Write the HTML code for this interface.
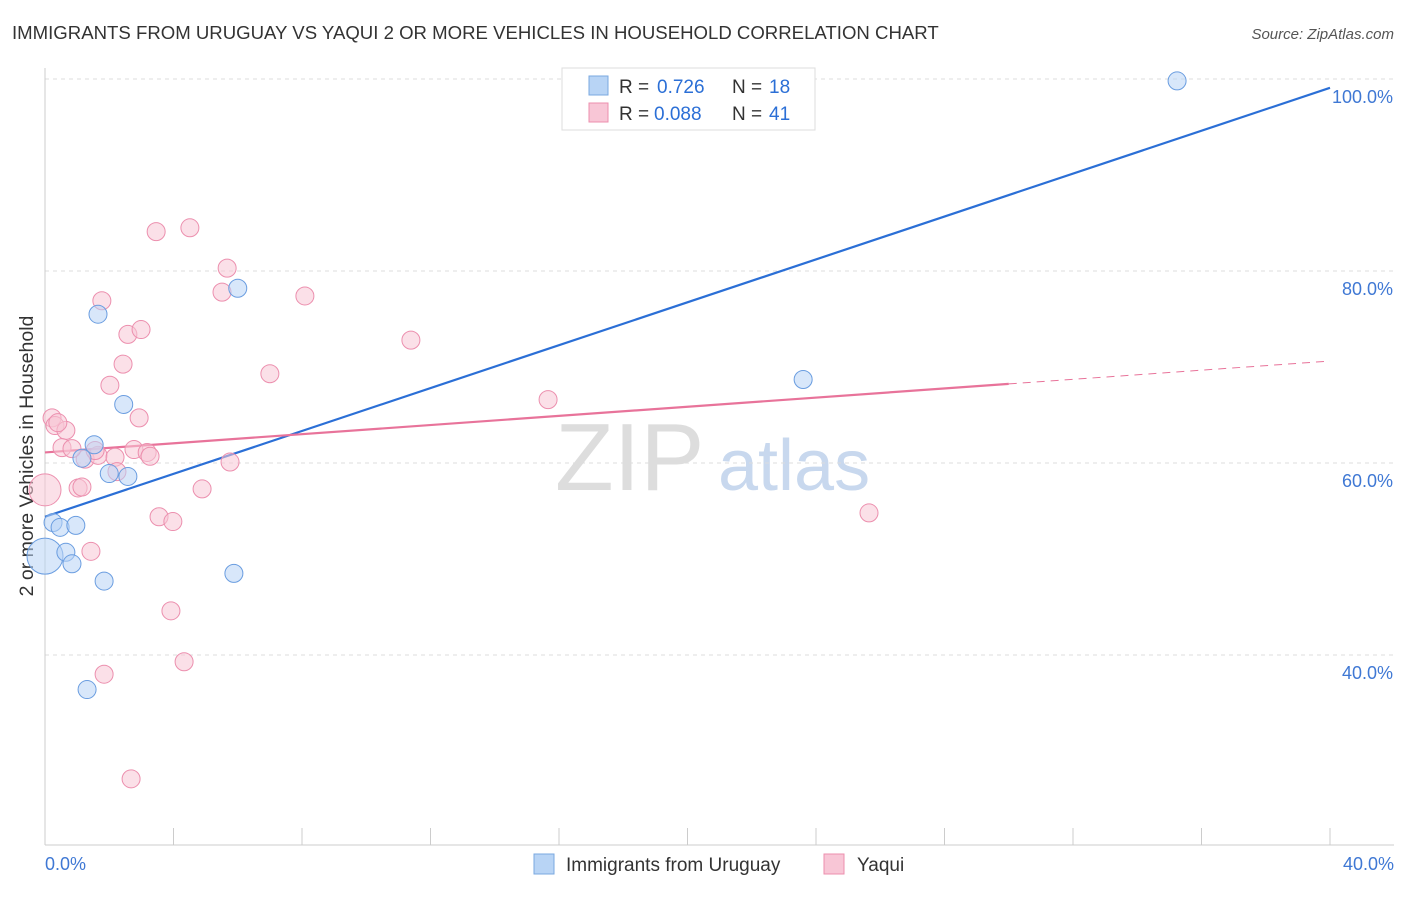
<!DOCTYPE html>
<html><head><meta charset="utf-8"><style>
body{margin:0;background:#fff;font-family:"Liberation Sans",sans-serif}
svg text{font-family:"Liberation Sans",sans-serif}
</style></head><body>
<svg id="chart" width="1406" height="892" xmlns="http://www.w3.org/2000/svg">
<text x="12" y="39" font-size="18.6" fill="#333">IMMIGRANTS FROM URUGUAY VS YAQUI 2 OR MORE VEHICLES IN HOUSEHOLD CORRELATION CHART</text>
<text x="1394" y="39" font-size="15" fill="#555" font-style="italic" text-anchor="end">Source: ZipAtlas.com</text>
<text x="555" y="490" font-size="96" fill="#ddd" font-family="Liberation Serif">ZIP</text>
<text x="718" y="490" font-size="72" fill="#c8d8ee">atlas</text>
<text transform="translate(33,456) rotate(-90)" font-size="19.5" fill="#333" text-anchor="middle">2 or more Vehicles in Household</text>
<g id="grid"></g><g id="axes"></g><g id="lines"></g><g id="pts"></g>
<g>
<rect x="562" y="68" width="253" height="62" fill="#fff" stroke="#ddd"/>
<rect x="589" y="76" width="19" height="19" fill="#b8d4f5" stroke="#7aa8e0"/>
<text x="619" y="93" font-size="19" fill="#333">R =</text><text x="657" y="93" font-size="19" fill="#2b6fd6">0.726</text>
<text x="732" y="93" font-size="19" fill="#333">N =</text><text x="769" y="93" font-size="19" fill="#2b6fd6">18</text>
<rect x="589" y="103" width="19" height="19" fill="#f8c6d6" stroke="#ec8fae"/>
<text x="619" y="120" font-size="19" fill="#333">R =</text><text x="654" y="120" font-size="19" fill="#2b6fd6">0.088</text>
<text x="732" y="120" font-size="19" fill="#333">N =</text><text x="769" y="120" font-size="19" fill="#2b6fd6">41</text>
</g>
<g>
<rect x="534" y="854" width="20" height="20" fill="#b8d4f5" stroke="#7aa8e0"/>
<text x="566" y="871" font-size="19" fill="#333">Immigrants from Uruguay</text>
<rect x="824" y="854" width="20" height="20" fill="#f8c6d6" stroke="#ec8fae"/>
<text x="857" y="871" font-size="19" fill="#333">Yaqui</text>
</g>
</svg>
<script>
const blueX=[35.24,6.0,1.65,2.45,1.53,1.15,2.0,2.58,0.25,0.47,0.96,0,0.65,0.84,1.84,5.88,1.31,23.6];
const blueY=[99.8,78.2,75.5,66.1,61.9,60.5,58.9,58.6,53.8,53.3,53.5,50.3,50.7,49.5,47.7,48.5,36.4,68.7];
const blueR=[9,9,9,9,9,9,9,9,9,9,9,18,9,9,9,9,9,9];
const pinkX=[0.22,0.31,0.65,0.53,0,1.25,1.65,0.84,2.18,2.24,1.03,1.15,1.43,1.77,2.58,2.99,2.43,2.02,2.93,2.77,3.18,3.27,3.46,4.51,5.67,5.51,8.09,11.39,7.0,5.76,4.89,3.55,3.98,3.92,4.33,1.84,2.68,15.66,25.65,0.40,1.56];
const pinkY=[64.7,63.9,63.4,61.6,57.2,60.4,60.8,61.5,60.6,59.1,57.4,57.5,50.8,76.9,73.4,73.9,70.3,68.1,64.7,61.4,61.1,60.7,84.1,84.5,80.3,77.8,77.4,72.8,69.3,60.1,57.3,54.4,53.9,44.6,39.3,38.0,27.1,66.6,54.8,64.2,61.3];
const pinkR=[9,9,9,9,16,9,9,9,9,9,9,9,9,9,9,9,9,9,9,9,9,9,9,9,9,9,9,9,9,9,9,9,9,9,9,9,9,9,9,9,9];
const yTicks=[40,60,80,100];
const xTicks=[0,4,8,12,16,20,24,28,32,36,40];
const blueFit=[54.4,1.117];
const pinkFit=[61.1,0.238];
const X=v=>45+v*32.125, Y=v=>463-(v-60)*9.6;
const NS="http://www.w3.org/2000/svg";
function mk(p,t,a){const e=document.createElementNS(NS,t);for(const k in a)e.setAttribute(k,a[k]);document.getElementById(p).appendChild(e);return e;}
yTicks.forEach(t=>{
 const l=mk('grid','line',{x1:45,x2:1394,y1:Y(t),y2:Y(t),stroke:'#ddd','stroke-dasharray':'4,4'});
 
 
 const tx=mk('grid','text',{x:1393,y:Y(t)+24,'font-size':18,fill:'#3f78d4','text-anchor':'end'});tx.textContent=t.toFixed(1)+'%';
 
 
});
const ax=mk('axes','line',{x1:45,x2:45,y1:68,y2:845,stroke:'#ccc'});


const bx=mk('axes','line',{x1:45,x2:1394,y1:845,y2:845,stroke:'#ccc'});


xTicks.forEach(t=>{
 const l=mk('axes','line',{x1:X(t),x2:X(t),y1:828,y2:845,stroke:'#ccc'});
 
 
});
[[0,'start',45],[40,'end',1394]].forEach(([t,a,x])=>{
 const tx=mk('axes','text',{x:x,y:870,'font-size':18,fill:'#3f78d4','text-anchor':a});tx.textContent=t.toFixed(1)+'%';
 
 
});
function pts(xs,ys,rs,fill,stroke,name){xs.forEach((x,i)=>{
 const c=mk('pts','circle',{cx:X(x),cy:Y(ys[i]),r:rs[i],fill:fill,'fill-opacity':0.55,stroke:stroke,'stroke-width':1});
 
 
});}
pts(pinkX,pinkY,pinkR,'#f8c6d6','#ec8fae','yaqui-point');
pts(blueX,blueY,blueR,'#b8d4f5','#6a9de0','uruguay-point');
const bl=mk('lines','line',{x1:X(0),y1:Y(blueFit[0]),x2:X(40),y2:Y(blueFit[0]+blueFit[1]*40),stroke:'#2b6fd6','stroke-width':2.2});


const pl=mk('lines','line',{x1:X(0),y1:Y(pinkFit[0]),x2:X(30),y2:Y(pinkFit[0]+pinkFit[1]*30),stroke:'#e8739a','stroke-width':2.2});


const pd=mk('lines','line',{x1:X(30),y1:Y(pinkFit[0]+pinkFit[1]*30),x2:X(40),y2:Y(pinkFit[0]+pinkFit[1]*40),stroke:'#e8739a','stroke-width':1,'stroke-dasharray':'8,6'});


</script>
</body></html>
